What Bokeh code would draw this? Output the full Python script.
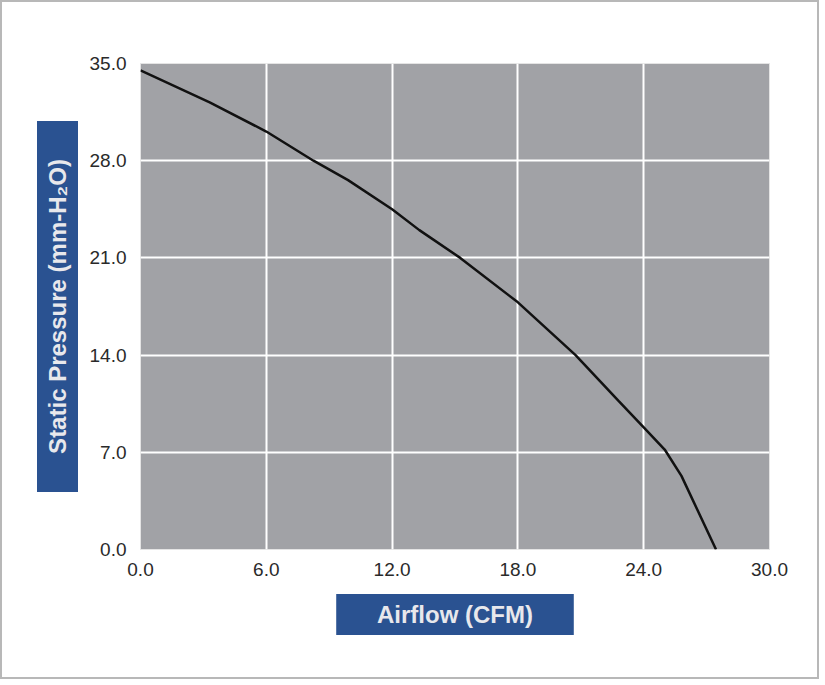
from bokeh.plotting import figure
from bokeh.models import Range1d, FixedTicker, Title, NumeralTickFormatter
from bokeh.embed import file_html
from bokeh.resources import INLINE

# Data
airflow = [0.0, 3.3, 6.0, 8.25, 9.9, 12.0, 13.3, 15.25, 18.0, 20.75, 22.8, 24.0, 25.0, 25.8, 27.45]
pressure = [34.5, 32.2, 30.1, 28.0, 26.6, 24.5, 23.0, 21.0, 17.8, 14.0, 10.7, 8.8, 7.2, 5.3, 0.0]
x_ticks = [0, 6, 12, 18, 24, 30]
y_ticks = [0, 7, 14, 21, 28, 35]
x_title = "Airflow (CFM)"
y_title = "Static Pressure (mm-H\u2082O)"

BLUE = "#2a5291"
TXT = "#e8e8ec"
PAD_Y = "\u2003\u2002\u200a"
PAD_X = "\u2003\u2002\u2009"

W, H = 819, 679
p = figure(width=W, height=H, output_backend="svg", toolbar_location=None,
           x_range=Range1d(0, 30), y_range=Range1d(0, 35),
           min_border_left=138, min_border_right=52, min_border_top=61, min_border_bottom=132)
p.styles = {"border": "2px solid #b8b8b8"}
p.background_fill_color = "#a1a2a6"
p.border_fill_color = "white"
p.outline_line_color = "#e4e4e4"
p.outline_line_width = 1

for ax in (p.xaxis, p.yaxis):
    ax.axis_line_color = None
    ax.major_tick_line_color = None
    ax.minor_tick_line_color = None
    ax.major_label_text_font = "Liberation Sans"
    ax.major_label_text_font_size = "19px"
    ax.major_label_text_color = "#2a2a2a"
    ax.formatter = NumeralTickFormatter(format="0.0")
p.xaxis.ticker = FixedTicker(ticks=x_ticks)
p.yaxis.ticker = FixedTicker(ticks=y_ticks)
p.xaxis.major_label_standoff = 7
p.yaxis.major_label_standoff = 8

p.xgrid.ticker = FixedTicker(ticks=x_ticks)
p.ygrid.ticker = FixedTicker(ticks=y_ticks)
for g in (p.xgrid, p.ygrid):
    g.grid_line_color = "white"
    g.grid_line_width = 2
    g.grid_line_alpha = 1.0

p.line(airflow, pressure, line_color="#111111", line_width=2.5)

xt = Title(text=PAD_X + x_title + PAD_X, align="center", text_font="Liberation Sans",
           text_font_style="bold", text_font_size="24px", text_color=TXT,
           background_fill_color=BLUE, padding=(0, 7), standoff=27, offset=-3)
p.add_layout(xt, "below")
yt = Title(text=PAD_Y + y_title + PAD_Y, align="center", text_font="Liberation Sans",
           text_font_style="bold", text_font_size="24px", text_color=TXT,
           background_fill_color=BLUE, padding=(0, 7), standoff=17)
p.add_layout(yt, "left")

open("out.html", "w").write(file_html(p, INLINE))
